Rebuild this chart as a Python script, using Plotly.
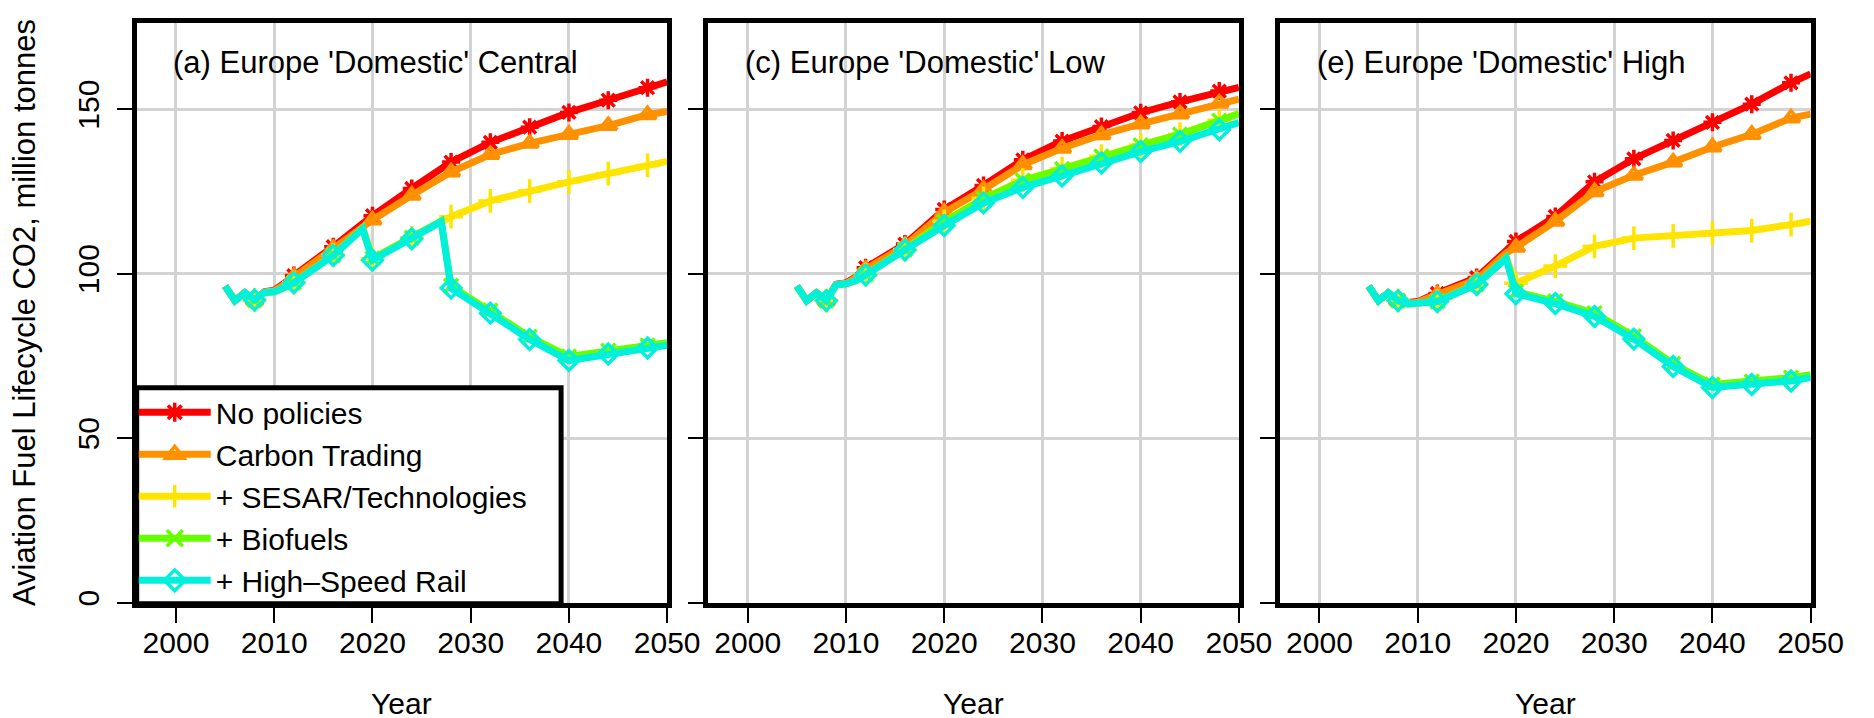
import plotly.graph_objects as go

W, H = 1874, 718
FONT = "Liberation Sans"

YEARS = [2005, 2006, 2007, 2008, 2009, 2010, 2011, 2012, 2016, 2019,
         2020, 2024, 2027, 2028, 2032, 2036, 2040, 2044, 2048, 2050]

SERIES = ["No policies", "Carbon Trading", "+ SESAR/Technologies",
          "+ Biofuels", "+ High\u2013Speed Rail"]

# (a) Central
central_no_policies = [96.2, 91.8, 94.2, 92.0, 94.5, 95.0, 97.0, 99.4, 108.2, 115.2,
                       117.6, 125.9, 131.9, 133.9, 139.9, 144.5, 149.0, 152.7, 156.5, 158.3]
central_carbon = [96.2, 91.8, 94.2, 92.0, 94.4, 94.8, 96.6, 99.0, 107.6, 114.2,
                  116.3, 123.8, 129.2, 130.9, 136.2, 139.6, 142.3, 145.0, 148.3, 149.3]
central_sesar = [96.2, 91.8, 94.2, 92.0, 94.3, 94.5, 95.8, 97.3, 105.6, 113.8,
                 104.6, 110.9, 116.0, 117.3, 122.1, 125.1, 127.9, 130.4, 132.9, 134.1]
central_biofuels = [96.2, 91.8, 94.2, 92.0, 94.3, 94.5, 95.8, 97.3, 105.6, 113.8,
                    104.6, 110.9, 116.0, 96.3, 88.8, 80.8, 74.8, 76.6, 78.2, 79.0]
central_rail = [96.2, 91.8, 94.2, 92.0, 94.3, 94.5, 95.8, 97.2, 105.5, 113.6,
                104.1, 110.6, 115.8, 95.6, 88.0, 80.0, 73.6, 75.6, 77.4, 78.2]

# (c) Low
low_no_policies = [96.2, 91.8, 94.2, 91.8, 96.8, 97.2, 99.0, 101.8, 109.0, 116.9,
                   119.5, 126.8, 132.6, 134.6, 140.3, 144.7, 148.9, 152.2, 155.5, 156.6]
low_carbon = [96.2, 91.8, 94.2, 91.8, 96.7, 97.0, 98.7, 101.3, 108.5, 116.1,
              118.6, 125.6, 131.2, 133.1, 138.1, 142.2, 145.5, 148.5, 151.8, 153.0]
low_sesar = [96.2, 91.8, 94.2, 91.8, 96.6, 96.9, 97.9, 99.7, 107.3, 113.8,
             115.9, 122.9, 127.1, 128.4, 131.9, 135.7, 139.1, 142.4, 146.6, 148.7]
low_biofuels = [96.2, 91.8, 94.2, 91.8, 96.6, 96.9, 97.9, 99.7, 107.3, 113.7,
                115.8, 122.8, 127.0, 128.3, 131.8, 135.6, 139.0, 142.3, 146.5, 148.6]
low_rail = [96.2, 91.8, 94.2, 91.8, 96.6, 96.9, 97.9, 99.6, 107.2, 113.0,
            114.6, 121.5, 125.2, 126.2, 129.7, 133.6, 137.1, 140.2, 143.7, 145.9]

# (e) High
high_no_policies = [96.2, 91.8, 94.2, 91.8, 91.2, 91.5, 92.8, 94.0, 98.8, 107.0,
                    109.8, 117.4, 125.3, 127.9, 134.9, 140.5, 146.0, 151.5, 158.0, 160.7]
high_carbon = [96.2, 91.8, 94.2, 91.8, 91.1, 91.3, 92.5, 93.6, 98.2, 106.3,
               108.0, 115.9, 122.9, 124.9, 129.9, 133.9, 138.5, 142.3, 147.3, 148.5]
high_sesar = [96.2, 91.8, 94.2, 91.8, 90.8, 90.8, 91.3, 91.6, 96.8, 104.8,
              97.1, 102.3, 106.8, 108.3, 110.8, 111.5, 112.3, 113.1, 114.9, 115.9]
high_biofuels = [96.2, 91.8, 94.2, 91.8, 90.8, 90.8, 91.3, 91.6, 96.8, 104.8,
                 94.5, 91.6, 88.8, 88.0, 81.0, 72.6, 66.3, 67.2, 68.4, 69.3]
high_rail = [96.2, 91.8, 94.2, 91.8, 90.8, 90.8, 91.3, 91.5, 96.7, 104.6,
             93.9, 90.9, 87.9, 87.0, 80.1, 71.8, 65.4, 66.3, 67.4, 68.4]

PANELS = [
    ("(a) Europe 'Domestic' Central",
     [central_no_policies, central_carbon, central_sesar, central_biofuels, central_rail]),
    ("(c) Europe 'Domestic' Low",
     [low_no_policies, low_carbon, low_sesar, low_biofuels, low_rail]),
    ("(e) Europe 'Domestic' High",
     [high_no_policies, high_carbon, high_sesar, high_biofuels, high_rail]),
]

COLORS = ["#ff0000", "#ff9000", "#ffe400", "#66ff00", "#00f0dc"]
SYMBOLS = ["asterisk-open", "triangle-up-open", "cross-thin-open", "x-thin-open", "diamond-open"]
MSIZE = [15, 15, 17, 14, 15]

# pixel boxes of the three plotting regions
X_PIX = [(131, 671), (713, 1253), (1295, 1835)]
Y_TOP, Y_BOT = 15, 598

fig = go.Figure()

for p, (title, series) in enumerate(PANELS):
    ax = "" if p == 0 else str(p + 1)
    for name, vals, col, sym, ms in zip(SERIES, series, COLORS, SYMBOLS, MSIZE):
        fig.add_trace(go.Scatter(
            x=YEARS, y=vals, mode="lines",
            line=dict(color=col, width=7),
            xaxis="x" + ax, yaxis="y" + ax, showlegend=False, hoverinfo="skip",
        ))
        mx = [x for x in YEARS if x % 4 == 0]
        my = [v for x, v in zip(YEARS, vals) if x % 4 == 0]
        fig.add_trace(go.Scatter(
            x=mx, y=my, mode="markers",
            marker=dict(symbol=sym, size=ms, color=col, line=dict(color=col, width=3.5)),
            xaxis="x" + ax, yaxis="y" + ax, showlegend=False,
        ))

    fig.add_annotation(
        text=title, xref="x" + ax, yref="paper", x=1999.5, y=1 - 55 / H,
        xanchor="left", yanchor="middle", showarrow=False,
        font=dict(size=31, color="black", family=FONT),
    )
    x0, x1 = X_PIX[p]
    fig.add_annotation(
        text="Year", xref="paper", yref="paper", x=(x0 + x1) / 2 / W, y=0,
        xanchor="center", yanchor="bottom", showarrow=False,
        font=dict(size=30, color="black", family=FONT),
    )

    axis_common = dict(
        showline=True, mirror=True, linewidth=5, linecolor="black",
        showgrid=True, gridcolor="#d3d3d3", gridwidth=3, zeroline=False,
        ticks="outside", ticklen=15, tickwidth=2, tickcolor="black",
        tickfont=dict(size=30, color="black", family=FONT),
    )
    fig.update_layout(**{
        "xaxis" + ax: dict(
            domain=[x0 / W, x1 / W], range=[1996, 2050], anchor="y" + ax,
            tickvals=[2000, 2010, 2020, 2030, 2040, 2050], ticklabelstandoff=-6,
            **axis_common,
        ),
        "yaxis" + ax: dict(
            domain=[1 - Y_BOT / H, 1 - Y_TOP / H], range=[0, 176.2], anchor="x" + ax,
            tickvals=[0, 50, 100, 150], tickangle=-90, showticklabels=(p == 0),
            ticklabelstandoff=6,
            **axis_common,
        ),
    })

# legend entries (panel a)
for name, col, sym in zip(SERIES, COLORS, SYMBOLS):
    fig.add_trace(go.Scatter(
        x=[None], y=[None], mode="lines+markers", name=name,
        line=dict(color=col, width=7),
        marker=dict(symbol=sym, size=16, color=col, line=dict(color=col, width=3.5)),
        xaxis="x", yaxis="y",
    ))

# opaque legend frame
fig.add_shape(
    type="rect", xref="paper", yref="paper", layer="above",
    x0=131 / W, x1=563 / W, y0=1 - 599 / H, y1=1 - 382 / H,
    fillcolor="white", line=dict(color="black", width=5),
)

fig.add_annotation(
    text="Aviation Fuel Lifecycle CO2, million tonnes", xref="paper", yref="paper",
    x=17 / W, y=1 - 306 / H, textangle=-90, xanchor="center", yanchor="middle",
    showarrow=False, font=dict(size=31, color="black", family=FONT),
)

fig.update_layout(
    width=W, height=H,
    margin=dict(l=0, r=0, t=0, b=0),
    plot_bgcolor="white", paper_bgcolor="white",
    font=dict(family=FONT, color="black"),
    legend=dict(
        x=128 / W, y=1 - 491 / H, xanchor="left", yanchor="middle",
        bgcolor="rgba(0,0,0,0)", borderwidth=0,
        font=dict(size=30, color="black", family=FONT),
        itemwidth=72, tracegroupgap=0,
    ),
)

fig.write_html("out.html")
